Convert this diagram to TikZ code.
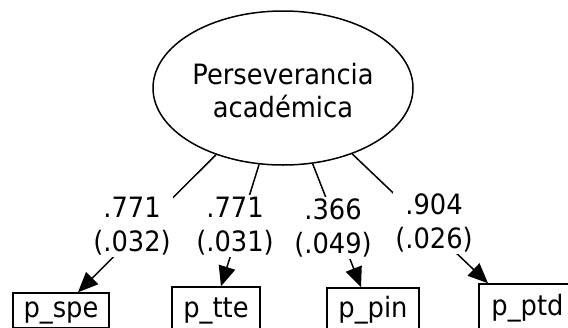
\documentclass[tikz,border=0pt]{standalone}
\usepackage{fontspec}
\setmainfont{DejaVu Sans}[FakeStretch=0.92]
\usetikzlibrary{shapes.geometric,arrows.meta}
\begin{document}
\begin{tikzpicture}[x=1pt,y=-1pt,
  every node/.style={font=\fontsize{28}{34}\selectfont},
  latent/.style={ellipse,draw,line width=1.5pt,minimum width=260pt,minimum height=154pt,
    inner sep=0pt,align=center,font=\fontsize{28}{33}\selectfont},
  obs/.style={rectangle,draw,line width=1.5pt,inner sep=0pt,text height=20pt,text depth=7pt},
  load/.style={line width=1.5pt,-{Triangle[length=20pt,width=17pt]}},
  est/.style={fill=white,inner sep=2pt,align=center}]
\useasboundingbox (0,0) rectangle (568,327);
\clip (0,0) rectangle (568,327);

% latent factor (strut lifts the two lines a little inside the ellipse)
\node[latent] (lat) at (283,88) {\rule{0pt}{27pt}Perseverancia\\académica};

% indicators (bottom edges run past the page)
\node[obs,minimum width=96pt,minimum height=35pt] (spe) at (61,310.5) {p\_spe};
\node[obs,minimum width=88pt,minimum height=47pt] (tte) at (216,310.5) {p\_tte};
\node[obs,minimum width=92pt,minimum height=45pt] (pin) at (373,310.5) {p\_pin};
\node[obs,minimum width=97pt,minimum height=49pt] (ptd) at (527.5,308.5) {p\_ptd};

% loadings
\draw[load] (lat) -- ([xshift=17pt]spe.north);
\draw[load] (lat) -- ([xshift=5pt]tte.north);
\draw[load] (lat) -- ([xshift=-12pt]pin.north);
\draw[load] (lat) -- ([xshift=-39.5pt]ptd.north);

% estimates (standard errors)
\node[est] (e1) at (132,226) {.771\\(.032)};
\node[est] (e2) at (235,226) {.771\\(.031)};
\node[est] (e3) at (333,228) {.366\\(.049)};
\node[est] (e4) at (434,223) {.904\\(.026)};
\end{tikzpicture}
\end{document}
